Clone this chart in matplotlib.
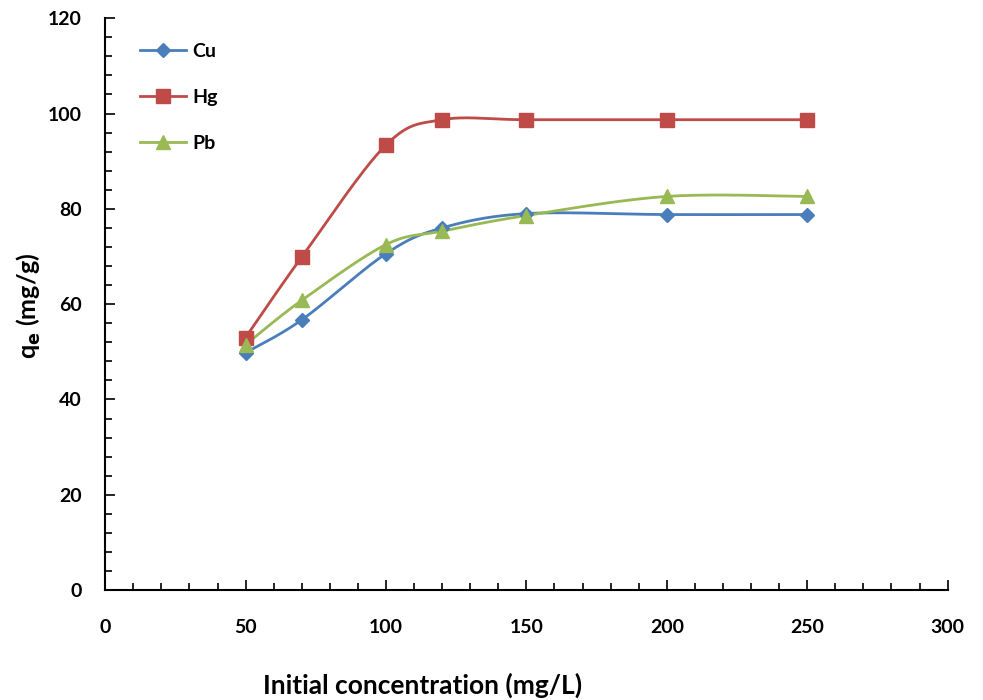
import numpy as np
import matplotlib
matplotlib.use('Agg')
import matplotlib.pyplot as plt
from matplotlib.ticker import MultipleLocator

plt.rcParams['font.family'] = ['Lato', 'DejaVu Sans']

# data
conc = [50, 70, 100, 120, 150, 200, 250]
cu = [49.8, 56.7, 70.6, 76.0, 79.0, 78.8, 78.8]
hg = [53.0, 69.9, 93.4, 98.7, 98.7, 98.7, 98.7]
pb = [51.5, 60.8, 72.5, 75.3, 78.6, 82.6, 82.6]


def smooth(x, y, n=30):
    # Excel style smoothed line (Catmull-Rom via cubic Bezier)
    p = np.column_stack([x, y]).astype(float)
    out = []
    for i in range(len(p) - 1):
        p0 = p[i - 1] if i > 0 else p[i]
        p1, p2 = p[i], p[i + 1]
        p3 = p[i + 2] if i + 2 < len(p) else p[i + 1]
        c1 = p1 + (p2 - p0) / 6
        c2 = p2 - (p3 - p1) / 6
        t = np.linspace(0, 1, n)[:, None]
        seg = ((1 - t) ** 3) * p1 + 3 * ((1 - t) ** 2) * t * c1 + 3 * (1 - t) * t ** 2 * c2 + t ** 3 * p2
        out.append(seg if i == 0 else seg[1:])
    s = np.vstack(out)
    return s[:, 0], s[:, 1]


fig = plt.figure(figsize=(9.83, 7.0), dpi=100)
ax = fig.add_axes([0.107, 0.157, 0.857, 0.817])

series = [
    ('Cu', cu, '#4A7EBB', 'D', 7),
    ('Hg', hg, '#BE4B48', 's', 10),
    ('Pb', pb, '#98B954', '^', 10),
]
for name, vals, col, mk, ms in series:
    sx, sy = smooth(conc, vals)
    ax.plot(sx, sy, color=col, lw=2, zorder=2)
    ax.plot(conc, vals, ls='none', marker=mk, ms=ms, color=col, zorder=3)
    ax.plot([], [], color=col, lw=2, marker=mk, ms=ms, label=name)

ax.set_xlim(0, 300)
ax.set_ylim(0, 120)
ax.xaxis.set_major_locator(MultipleLocator(50))
ax.xaxis.set_minor_locator(MultipleLocator(10))
ax.yaxis.set_major_locator(MultipleLocator(20))
ax.yaxis.set_minor_locator(MultipleLocator(4))
ax.tick_params(which='both', direction='in', width=1.2, labelsize=14)
ax.tick_params(which='major', length=7)
ax.tick_params(which='minor', length=5)
ax.tick_params(axis='x', pad=21)
ax.tick_params(axis='y', pad=17)
for lbl in ax.get_xticklabels() + ax.get_yticklabels():
    lbl.set_fontweight('bold')

for side in ['top', 'right']:
    ax.spines[side].set_visible(False)
for side in ['left', 'bottom']:
    ax.spines[side].set_linewidth(1.5)

ax.set_xlabel('Initial concentration (mg/L)', fontsize=19, fontweight='bold', va='center')
ax.xaxis.set_label_coords(0.377, -0.166)
ax.set_ylabel(r'q$_\mathbf{e}$ (mg/g)', fontsize=18, fontweight='bold', va='center')
ax.yaxis.set_label_coords(-0.091, 0.497)

leg = ax.legend(loc='upper left', bbox_to_anchor=(0.02, 0.988), frameon=False,
                fontsize=14, handlelength=2.4, labelspacing=1.5, handletextpad=0.3)
for t in leg.get_texts():
    t.set_fontweight('bold')

fig.savefig('out.png', dpi=100)
